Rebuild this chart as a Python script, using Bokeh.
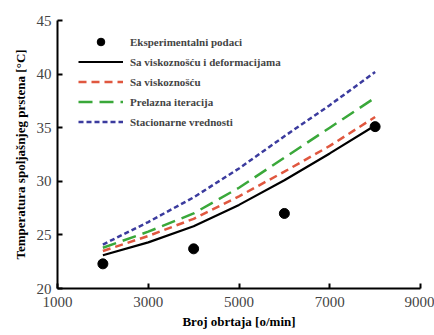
from bokeh.plotting import figure
from bokeh.models import Legend, LegendItem, Range1d, FixedTicker
from bokeh.embed import file_html
from bokeh.resources import INLINE

x_exp = [2000, 4000, 6000, 8000]
y_exp = [22.3, 23.7, 27.0, 35.1]

x_model = [2000, 3000, 4000, 5000, 6000, 7000, 8000]
y_visc_def = [23.1, 24.3, 25.8, 27.8, 30.1, 32.6, 35.2]
y_visc = [23.5, 24.9, 26.5, 28.6, 30.9, 33.3, 36.0]
y_trans = [23.8, 25.3, 27.0, 29.4, 32.2, 35.0, 37.8]
y_stat = [24.1, 26.2, 28.5, 31.2, 34.2, 37.1, 40.2]

x_ticks = [1000, 3000, 5000, 7000, 9000]
y_ticks = [20, 25, 30, 35, 40, 45]

labels = ["Eksperimentalni podaci", "Sa viskoznošću i deformacijama",
          "Sa viskoznošću", "Prelazna iteracija", "Stacionarne vrednosti"]

FONT = "Liberation Serif"

p = figure(width=434, height=335, output_backend="svg", toolbar_location=None,
           x_range=Range1d(1000, 9000), y_range=Range1d(20, 45),
           min_border_left=57, min_border_right=14, min_border_top=20, min_border_bottom=47)
p.outline_line_color = None
p.grid.visible = False
p.background_fill_color = "white"

r_def = p.line(x_model, y_visc_def, line_color="black", line_width=2.2)
r_visc = p.line(x_model, y_visc, line_color="#e0573f", line_width=2.5, line_dash="8 5")
r_trans = p.line(x_model, y_trans, line_color="#3aa83a", line_width=2.5, line_dash="14 7")
r_stat = p.line(x_model, y_stat, line_color="#3b3b9e", line_width=2.5, line_dash="5 3")
r_exp = p.scatter(x_exp, y_exp, size=10, color="black")

for ax in (p.xaxis[0], p.yaxis[0]):
    ax.axis_line_width = 2
    ax.axis_line_color = "black"
    ax.major_tick_in = 5
    ax.major_tick_out = 0
    ax.major_tick_line_width = 2
    ax.minor_tick_line_color = None
    ax.major_label_text_font = FONT
    ax.major_label_text_font_size = "15px"
    ax.major_label_text_color = "#444444"
    ax.axis_label_text_font = FONT
    ax.axis_label_text_font_style = "bold"
    ax.axis_label_text_font_size = "13px"
    ax.axis_label_text_color = "black"

p.xaxis.ticker = FixedTicker(ticks=x_ticks)
p.yaxis.ticker = FixedTicker(ticks=y_ticks)
p.xaxis.axis_label = "Broj obrtaja [o/min]"
p.yaxis.axis_label = "Temperatura spoljašnjeg prstena [°C]"
p.xaxis.major_label_standoff = 8
p.yaxis.major_label_standoff = 6
p.xaxis.axis_label_standoff = 4
p.yaxis.axis_label_standoff = 6

legend = Legend(items=[LegendItem(label=labels[0], renderers=[r_exp]),
                       LegendItem(label=labels[1], renderers=[r_def]),
                       LegendItem(label=labels[2], renderers=[r_visc]),
                       LegendItem(label=labels[3], renderers=[r_trans]),
                       LegendItem(label=labels[4], renderers=[r_stat])],
                location=(21, 157))
legend.background_fill_alpha = 0
legend.border_line_color = None
legend.padding = 0
legend.margin = 0
legend.spacing = 1
legend.glyph_width = 45
legend.glyph_height = 19
legend.label_height = 19
legend.label_standoff = 7
legend.label_text_font = FONT
legend.label_text_font_style = "bold"
legend.label_text_font_size = "11px"
p.add_layout(legend)

open("out.html", "w").write(file_html(p, INLINE))
